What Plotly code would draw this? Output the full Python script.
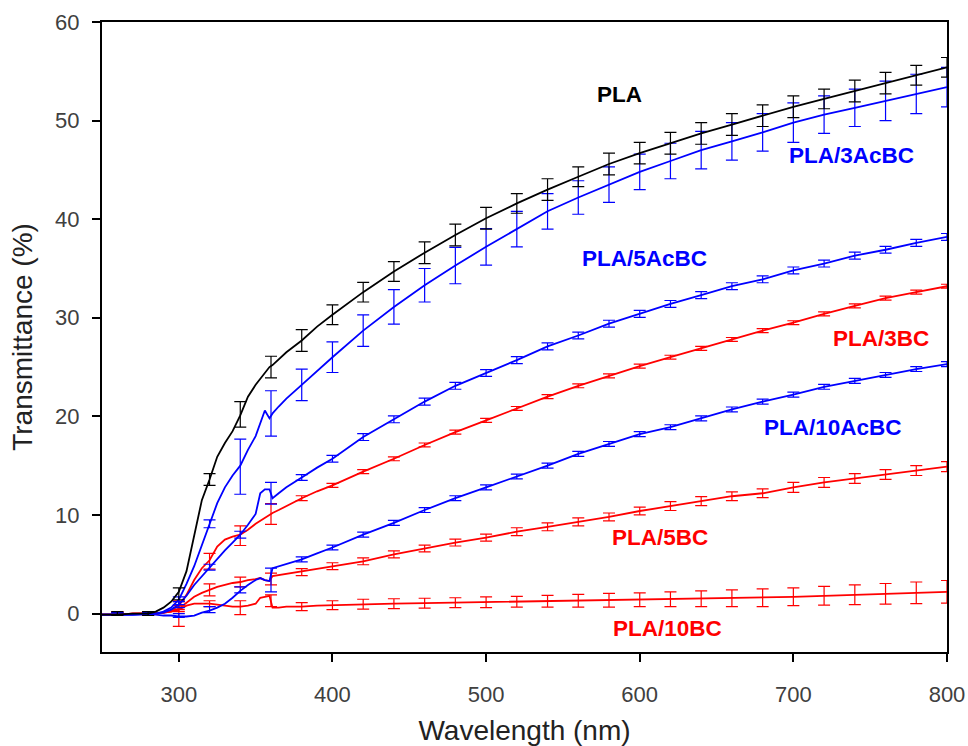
import plotly.graph_objects as go

# ---------------- data ----------------
LINE_X = [250, 260, 270, 280, 285, 290, 295, 300, 305, 310, 315, 320, 325, 330, 335, 340, 345, 350,
          353, 356, 359, 361, 365, 370, 380, 390, 400,
          420, 440, 460, 480, 500, 520, 540, 560, 580, 600, 620, 640, 660, 680, 700, 720, 740, 760, 780, 800]

PLA_LINE = [-0.1, -0.1, 0.0, 0.0, 0.2, 0.6, 1.2, 2.2, 4.3, 8.0, 11.5, 13.6, 15.9, 17.3, 18.5, 20.1, 22.0, 23.2,
            23.8, 24.4, 25.0, 25.2, 25.8, 26.5, 27.7, 29.1, 30.3,
            32.6, 34.7, 36.6, 38.4, 40.1, 41.6, 43.0, 44.3, 45.6, 46.7, 47.7, 48.7, 49.6, 50.5, 51.4, 52.2, 53.0, 53.8, 54.6, 55.4]
AC3_LINE = [-0.1, -0.1, -0.1, 0.0, 0.0, 0.2, 0.6, 1.4, 3.0, 4.8, 7.0, 9.1, 11.2, 12.8, 14.0, 15.0, 16.6, 18.0,
            19.2, 20.6, 19.8, 20.3, 21.0, 21.8, 23.2, 24.6, 26.0,
            28.7, 31.1, 33.3, 35.3, 37.2, 39.0, 40.8, 42.2, 43.5, 44.8, 45.9, 47.0, 47.9, 48.8, 49.8, 50.6, 51.3, 52.0, 52.7, 53.4]
AC5_LINE = [-0.1, -0.1, -0.1, 0.0, 0.0, 0.1, 0.4, 0.9, 1.8, 2.9, 3.8, 4.7, 5.5, 6.4, 7.2, 8.0, 9.0, 10.1,
            12.2, 12.6, 12.6, 11.7, 12.2, 12.8, 13.8, 14.8, 15.7,
            17.9, 19.7, 21.5, 23.1, 24.4, 25.7, 27.1, 28.2, 29.4, 30.4, 31.4, 32.3, 33.2, 33.9, 34.8, 35.5, 36.3, 36.9, 37.6, 38.2]
BC3_LINE = [-0.1, -0.1, 0.0, 0.0, 0.0, 0.1, 0.3, 0.8, 1.9, 3.4, 4.6, 5.4, 6.8, 7.5, 7.8, 8.0, 8.5, 9.1,
            9.4, 9.7, 10.0, 10.2, 10.5, 10.9, 11.7, 12.4, 13.0,
            14.4, 15.7, 17.1, 18.4, 19.6, 20.8, 22.0, 23.1, 24.1, 25.1, 26.0, 26.9, 27.8, 28.7, 29.5, 30.4, 31.2, 32.0, 32.6, 33.2]
AC10_LINE = [-0.1, -0.1, -0.1, -0.1, -0.1, -0.2, -0.2, -0.3, -0.3, -0.2, 0.1, 0.3, 0.6, 1.0, 1.6, 2.3, 2.9, 3.4,
             3.6, 3.4, 3.3, 4.6, 4.8, 5.0, 5.5, 6.1, 6.7,
             8.0, 9.2, 10.5, 11.7, 12.8, 13.9, 15.0, 16.2, 17.2, 18.2, 18.9, 19.8, 20.7, 21.5, 22.2, 23.0, 23.6, 24.2, 24.8, 25.3]
BC5_LINE = [-0.1, -0.1, 0.0, 0.0, 0.0, 0.1, 0.2, 0.5, 1.1, 1.7, 2.1, 2.4, 2.7, 2.9, 3.1, 3.2, 3.4, 3.5,
            3.6, 3.4, 3.3, 3.8, 3.9, 4.0, 4.3, 4.5, 4.8,
            5.3, 6.0, 6.6, 7.2, 7.7, 8.3, 8.8, 9.3, 9.8, 10.4, 10.9, 11.4, 11.9, 12.2, 12.8, 13.3, 13.7, 14.1, 14.5, 14.9]
BC10_LINE = [-0.1, -0.1, 0.0, 0.0, 0.05, 0.1, 0.2, 0.4, 0.8, 1.0, 1.0, 1.0, 0.9, 0.8, 0.7, 0.7, 0.8, 1.0,
             1.6, 1.7, 1.8, 0.6, 0.6, 0.7, 0.7, 0.8, 0.85,
             0.95, 1.0, 1.05, 1.1, 1.15, 1.2, 1.25, 1.3, 1.35, 1.4, 1.45, 1.5, 1.55, 1.6, 1.7, 1.8, 1.9, 2.0, 2.1, 2.2]

ERR_X = [260, 280, 300, 320, 340, 360, 380, 400, 420, 440, 460, 480, 500, 520, 540, 560, 580, 600,
         620, 640, 660, 680, 700, 720, 740, 760, 780, 800]

PLA_MEAN = [0.0, 0.0, 2.0, 13.6, 20.2, 25.0, 27.7, 30.3, 32.6, 34.7, 36.6, 38.4, 40.1, 41.6, 43.0, 44.3, 45.6, 46.7,
            47.7, 48.7, 49.6, 50.5, 51.4, 52.2, 53.0, 53.8, 54.6, 55.4]
PLA_ERR = [0.2, 0.2, 0.6, 0.6, 1.3, 1.1, 1.1, 1.0, 1.0, 1.0, 1.1, 1.1, 1.1, 1.0, 1.1, 1.0, 1.1, 1.1,
           1.1, 1.1, 1.1, 1.1, 1.1, 1.0, 1.1, 1.1, 1.0, 1.0]
AC3_MEAN = [0.0, 0.0, 1.3, 9.1, 14.9, 20.3, 23.2, 26.0, 28.7, 31.1, 33.3, 35.3, 37.2, 39.0, 40.8, 42.2, 43.5, 44.8,
            45.9, 47.0, 47.9, 48.8, 49.8, 50.6, 51.3, 52.0, 52.7, 53.4]
AC3_ERR = [0.1, 0.1, 0.4, 0.4, 2.8, 2.3, 1.6, 1.55, 1.6, 1.75, 1.7, 1.85, 1.85, 1.8, 1.8, 1.7, 1.8, 1.8,
           1.8, 1.9, 1.9, 1.9, 2.0, 1.9, 1.9, 2.0, 2.0, 2.0]
AC5_MEAN = [0.0, 0.0, 0.9, 4.7, 8.0, 12.2, 13.8, 15.7, 17.9, 19.7, 21.5, 23.1, 24.4, 25.7, 27.1, 28.2, 29.4, 30.4,
            31.4, 32.3, 33.2, 33.9, 34.8, 35.5, 36.3, 36.9, 37.6, 38.2]
AC5_ERR = [0.1, 0.1, 0.3, 0.3, 0.35, 1.1, 0.3, 0.35, 0.35, 0.35, 0.35, 0.35, 0.35, 0.35, 0.35, 0.35, 0.35, 0.35,
           0.35, 0.35, 0.35, 0.35, 0.35, 0.35, 0.35, 0.35, 0.35, 0.35]
BC3_MEAN = [0.0, 0.0, 0.8, 5.3, 7.9, 10.1, 11.7, 13.0, 14.4, 15.7, 17.1, 18.4, 19.6, 20.8, 22.0, 23.1, 24.1, 25.1,
            26.0, 26.9, 27.8, 28.7, 29.5, 30.4, 31.2, 32.0, 32.6, 33.2]
BC3_ERR = [0.2, 0.2, 0.4, 0.8, 1.0, 1.05, 0.25, 0.2, 0.2, 0.2, 0.2, 0.2, 0.2, 0.2, 0.2, 0.2, 0.2, 0.2,
           0.2, 0.2, 0.2, 0.2, 0.2, 0.2, 0.2, 0.2, 0.2, 0.2]
AC10_MEAN = [0.0, 0.0, -0.2, 0.4, 2.4, 3.4, 5.5, 6.7, 8.0, 9.2, 10.5, 11.7, 12.8, 13.9, 15.0, 16.2, 17.2, 18.2,
             18.9, 19.8, 20.7, 21.5, 22.2, 23.0, 23.6, 24.2, 24.8, 25.3]
AC10_ERR = [0.1, 0.1, 0.2, 0.3, 0.3, 1.2, 0.25, 0.25, 0.25, 0.25, 0.25, 0.25, 0.25, 0.25, 0.25, 0.25, 0.25, 0.25,
            0.25, 0.25, 0.25, 0.25, 0.25, 0.25, 0.25, 0.25, 0.25, 0.25]
BC5_MEAN = [0.0, 0.0, 0.5, 2.4, 3.2, 3.5, 4.2, 4.8, 5.3, 6.0, 6.6, 7.2, 7.7, 8.3, 8.8, 9.3, 9.8, 10.4,
            10.9, 11.4, 11.9, 12.2, 12.8, 13.3, 13.7, 14.1, 14.5, 14.9]
BC5_ERR = [0.1, 0.1, 0.3, 0.6, 0.5, 0.6, 0.35, 0.35, 0.35, 0.35, 0.35, 0.35, 0.35, 0.4, 0.4, 0.4, 0.4, 0.4,
           0.45, 0.45, 0.45, 0.45, 0.5, 0.5, 0.5, 0.5, 0.5, 0.5]
BC10_MEAN = [0.0, 0.0, 0.0, 1.0, 0.6, 1.3, 0.7, 0.85, 0.95, 1.0, 1.05, 1.1, 1.15, 1.2, 1.25, 1.3, 1.35, 1.4,
             1.45, 1.5, 1.55, 1.6, 1.7, 1.8, 1.9, 2.0, 2.1, 2.2]
BC10_ERR = [0.2, 0.2, 1.3, 0.3, 0.7, 0.6, 0.4, 0.45, 0.5, 0.5, 0.5, 0.5, 0.55, 0.55, 0.6, 0.65, 0.7, 0.7,
            0.75, 0.8, 0.85, 0.9, 0.9, 0.95, 1.0, 1.05, 1.1, 1.15]

LABELS = ["PLA", "PLA/3AcBC", "PLA/5AcBC", "PLA/3BC", "PLA/10AcBC", "PLA/5BC", "PLA/10BC"]
LABEL_X = [587, 738, 603, 757, 726, 613, 618]
LABEL_Y = [52.6, 46.5, 36.0, 27.9, 18.9, 7.7, -1.5]

BLACK = "#000000"
BLUE = "#0000ff"
RED = "#ff0000"

series = [
    (PLA_LINE, PLA_MEAN, PLA_ERR, BLACK),
    (AC3_LINE, AC3_MEAN, AC3_ERR, BLUE),
    (AC5_LINE, AC5_MEAN, AC5_ERR, BLUE),
    (BC3_LINE, BC3_MEAN, BC3_ERR, RED),
    (AC10_LINE, AC10_MEAN, AC10_ERR, BLUE),
    (BC5_LINE, BC5_MEAN, BC5_ERR, RED),
    (BC10_LINE, BC10_MEAN, BC10_ERR, RED),
]
label_colors = [BLACK, BLUE, BLUE, RED, BLUE, RED, RED]

fig = go.Figure()
# draw in reverse so black is on top
for line_y, mean_y, err_y, col in reversed(series):
    fig.add_trace(go.Scatter(x=LINE_X, y=line_y, mode="lines",
                             line=dict(color=col, width=1.8), showlegend=False,
                             hoverinfo="skip"))
    fig.add_trace(go.Scatter(x=ERR_X, y=mean_y, mode="markers",
                             marker=dict(size=1, color=col, opacity=0),
                             error_y=dict(type="data", array=err_y, visible=True,
                                          color=col, thickness=1.2, width=6),
                             showlegend=False))

for txt, lx, ly, col in zip(LABELS, LABEL_X, LABEL_Y, label_colors):
    fig.add_annotation(x=lx, y=ly, text="<b>" + txt + "</b>", showarrow=False,
                       font=dict(family="Liberation Sans, Arial, sans-serif", size=22.5, color=col))

axis_font = dict(family="Liberation Sans, Arial, sans-serif", size=22, color="#404040")
title_font = dict(family="Liberation Sans, Arial, sans-serif", size=28, color="#222222")

fig.update_layout(
    width=968, height=746,
    margin=dict(l=102, r=20.5, t=22, b=94),
    paper_bgcolor="white", plot_bgcolor="white",
    showlegend=False,
    xaxis=dict(range=[250, 800], tickvals=[300, 400, 500, 600, 700, 800],
               ticks="outside", ticklen=8, tickwidth=2, tickcolor="black",
               showline=True, linecolor="black", linewidth=2, mirror=True,
               showgrid=False, zeroline=False, tickfont=axis_font, automargin=False,
               ticklabelstandoff=14,
               title=dict(text="Wavelength (nm)", font=title_font, standoff=17)),
    yaxis=dict(range=[-3.9, 60], tickvals=[0, 10, 20, 30, 40, 50, 60],
               ticks="outside", ticklen=8, tickwidth=2, tickcolor="black",
               showline=True, linecolor="black", linewidth=2, mirror=True,
               showgrid=False, zeroline=False, tickfont=axis_font, automargin=False,
               ticklabelstandoff=8,
               title=dict(text="Transmittance (%)", font=title_font, standoff=14)),
)

# remove the default page margin so the figure fills the window exactly; hide the modebar
fig.write_html("out.html",
               config={"displayModeBar": False},
               post_script="document.body.style.margin='0';document.body.style.overflow='hidden';")
